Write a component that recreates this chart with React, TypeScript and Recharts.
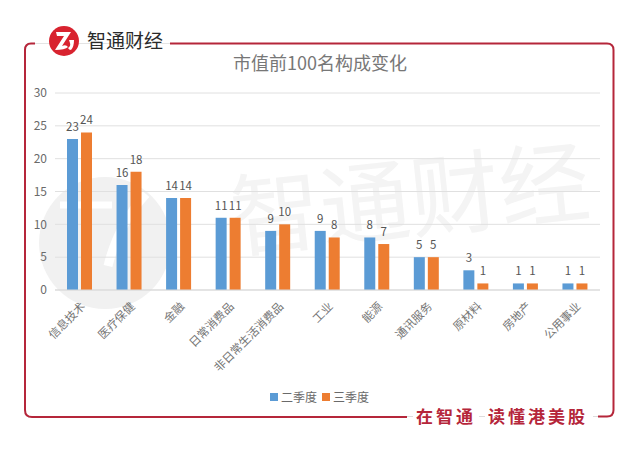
import { BarChart, Bar, XAxis, YAxis, CartesianGrid, Legend, LabelList } from "recharts";

const categories = ["信息技术", "医疗保健", "金融", "日常消费品", "非日常生活消费品", "工业", "能源", "通讯服务", "原材料", "房地产", "公用事业"];
const q2Values = [23, 16, 14, 11, 9, 9, 8, 5, 3, 1, 1];
const q3Values = [24, 18, 14, 11, 10, 8, 7, 5, 1, 1, 1];
const yTicks = [0, 5, 10, 15, 20, 25, 30];

const data = categories.map((name, i) => ({ name, q2: q2Values[i], q3: q3Values[i] }));

const FONT = '"Noto Sans CJK SC", "Noto Sans", sans-serif';
const RED = "#b5263a";

function AngledTick({ x, y, payload }: any) {
  return (
    <text
      x={x + 4}
      y={y + 7}
      transform={`rotate(-45 ${x + 4} ${y + 7})`}
      textAnchor="end"
      dominantBaseline="middle"
      fontSize={11.5}
      fontFamily={FONT}
      fill="#757575"
    >
      {payload.value}
    </text>
  );
}

function LegendRow({ payload }: any) {
  return (
    <div style={{ display: "flex", alignItems: "center", fontSize: 12, fontFamily: FONT, color: "#6a6a6a" }}>
      {(payload || []).map((item: any) => (
        <span key={item.value} style={{ display: "flex", alignItems: "center", marginRight: 5 }}>
          <span style={{ width: 8, height: 8, background: item.color, marginRight: 3 }} />
          {item.value}
        </span>
      ))}
    </div>
  );
}

function Backdrop() {
  return (
    <svg width={640} height={458} style={{ position: "absolute", left: 0, top: 0 }}>
      {/* watermark */}
      <circle cx={105} cy={243} r={66} fill="#f1f1f1" />
      <path d="M108 266 Q118 225 146 194" fill="none" stroke="#fff" strokeWidth={9} />
      <path d="M60 205 H112" fill="none" stroke="#fff" strokeWidth={7} />
      <text x={410} y={232} textAnchor="middle" transform="rotate(-6 410 200)" fontSize={90} fontFamily={FONT} fill="#f4f4f4">智通财经</text>

      {/* frame */}
      <path d="M35 43.5 H31 Q25 43.5 25 50 V410 Q25 417 32 417 H407" fill="none" stroke={RED} strokeWidth={2} />
      <path d="M170 43.5 H607 Q613.5 43.5 613.5 50 V410 Q613.5 416.5 607 416.5 H598" fill="none" stroke={RED} strokeWidth={2} />
      <path d="M35 43.5 H170" fill="none" stroke="#e4e4e4" strokeWidth={1} />
      <path d="M407 416.5 H598" fill="none" stroke="#dcdcdc" strokeWidth={1} />

      {/* logo */}
      <circle cx={64} cy={41} r={15} fill="#d8232f" />
      <path d="M56 32 H71 L62 46 Q66 44 68 47 Q65 50 55 50 L64 36 H57 Z" fill="#fff" />
      <path d="M69 40 H74 Q74 47 71 50 Q69 50 68 48 Q71 46 70 43 Z" fill="#fff" />
      <text x={87} y={48} fontSize={19} fontFamily={FONT} fill="#2a2a2a">智通财经</text>

      <text x={320} y={70} textAnchor="middle" fontSize={18} fontFamily={FONT} fill="#777">市值前100名构成变化</text>

      {/* slogan */}
      <rect x={413} y={406} width={66} height={20} fill="#fff" />
      <rect x={485} y={406} width={108} height={20} fill="#fff" />
      <text x={416} y={423} fontSize={17} letterSpacing={3} fontWeight={700} fontFamily={FONT} fill={RED}>在智通</text>
      <text x={488} y={423} fontSize={17} letterSpacing={3} fontWeight={700} fontFamily={FONT} fill={RED}>读懂港美股</text>
    </svg>
  );
}

export default function App() {
  return (
    <div style={{ position: "absolute", left: 0, top: 0, width: 640, height: 458, background: "#fff", overflow: "hidden" }}>
      <Backdrop />
      <div style={{ position: "absolute", left: 0, top: 0 }}>
        <BarChart
          width={640}
          height={458}
          data={data}
          barSize={11}
          barGap={3}
          margin={{ top: 93, right: 40, bottom: 0, left: 25 }}
        >
          <CartesianGrid vertical={false} stroke="#e0e0e0" strokeWidth={1} />
          <XAxis
            dataKey="name"
            interval={0}
            height={135}
            tick={<AngledTick />}
            tickLine={false}
            axisLine={{ stroke: "#d9d9d9" }}
          />
          <YAxis
            domain={[0, 30]}
            ticks={yTicks}
            width={30}
            tick={{ fontSize: 12, fill: "#6a6a6a", fontFamily: FONT }}
            tickLine={false}
            axisLine={false}
          />
          <Legend
            verticalAlign="bottom"
            height={33}
            itemSorter={null}
            content={<LegendRow />}
            wrapperStyle={{ top: 388, left: 270, width: 110 }}
          />
          <Bar dataKey="q2" name="二季度" fill="#5b9bd5" isAnimationActive={false}>
            <LabelList dataKey="q2" position="top" offset={8} fontSize={11.5} fill="#555" fontFamily={FONT} />
          </Bar>
          <Bar dataKey="q3" name="三季度" fill="#ed7d31" isAnimationActive={false}>
            <LabelList dataKey="q3" position="top" offset={8} fontSize={11.5} fill="#555" fontFamily={FONT} />
          </Bar>
        </BarChart>
      </div>
    </div>
  );
}
